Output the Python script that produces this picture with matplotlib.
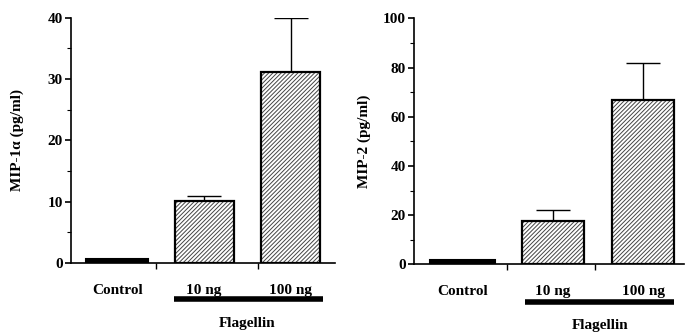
import matplotlib.pyplot as plt
from matplotlib.ticker import MultipleLocator

plt.rcParams['font.family'] = ['Liberation Serif', 'DejaVu Serif']
plt.rcParams['font.weight'] = 'bold'
plt.rcParams['hatch.linewidth'] = 0.7

groups = ['Control', '10 ng', '100 ng']

mip1a = [0.6, 10.1, 31.1]
mip1a_err = [0.0, 0.8, 8.9]

mip2 = [1.8, 17.6, 67.0]
mip2_err = [0.0, 4.4, 15.0]

fig = plt.figure(figsize=(6.91, 3.35), dpi=100)

panels = [
    dict(rect=[0.103, 0.215, 0.382, 0.732], vals=mip1a, err=mip1a_err, ymax=40, major=10, minor=5,
         xlim=(-0.53, 2.51), sep=[0.45, 1.62], ylabel='MIP-1\u03b1 (pg/ml)', labx=-0.18,
         bar=(0.655, 2.37), bary=-0.147, flagx=1.5, flagy=-0.245),
    dict(rect=[0.599, 0.211, 0.391, 0.734], vals=mip2, err=mip2_err, ymax=100, major=20, minor=10,
         xlim=(-0.544, 2.456), sep=[0.49, 1.47], ylabel='MIP-2 (pg/ml)', labx=-0.16,
         bar=(0.69, 2.34), bary=-0.153, flagx=1.52, flagy=-0.25),
]

for p in panels:
    ax = fig.add_axes(p['rect'])
    x = list(range(len(groups)))
    ax.bar(x[:1], p['vals'][:1], width=0.72, color='black', edgecolor='black', linewidth=1.5)
    # hatch in grey, outline in black
    ax.bar(x[1:], p['vals'][1:], width=0.68, color='white', edgecolor='#444444',
           hatch='////////', linewidth=0, zorder=2)
    ax.bar(x[1:], p['vals'][1:], width=0.68, fill=False, edgecolor='black',
           linewidth=1.6, zorder=3)
    ax.errorbar(x[1:], p['vals'][1:], yerr=[[0, 0], p['err'][1:]], fmt='none',
                ecolor='black', elinewidth=1, capsize=12, capthick=1, zorder=1)
    ax.set_xlim(*p['xlim'])
    ax.set_ylim(0, p['ymax'])
    ax.spines['top'].set_visible(False)
    ax.spines['right'].set_visible(False)
    ax.spines['left'].set_linewidth(1.2)
    ax.spines['bottom'].set_linewidth(1.2)
    ax.yaxis.set_major_locator(MultipleLocator(p['major']))
    ax.yaxis.set_minor_locator(MultipleLocator(p['minor']))
    ax.tick_params(axis='y', which='major', length=4, width=1.2, labelsize=11, pad=2)
    ax.tick_params(axis='y', which='minor', length=3, width=0.8)
    ax.set_xticks(x)
    ax.set_xticklabels(groups)
    ax.set_xticks(p['sep'], minor=True)
    ax.tick_params(axis='x', which='major', length=0, labelsize=11, pad=15)
    ax.tick_params(axis='x', which='minor', length=4, width=1)
    ax.set_ylabel(p['ylabel'], fontsize=11, fontweight='bold')
    ax.yaxis.set_label_coords(p['labx'], 0.5)
    ax.plot(p['bar'], [p['bary'], p['bary']], color='black', lw=4,
            transform=ax.get_xaxis_transform(), clip_on=False, solid_capstyle='butt')
    ax.text(p['flagx'], p['flagy'], 'Flagellin', transform=ax.get_xaxis_transform(),
            ha='center', va='center', fontsize=11, fontweight='bold')

fig.savefig('out.png', dpi=100)
